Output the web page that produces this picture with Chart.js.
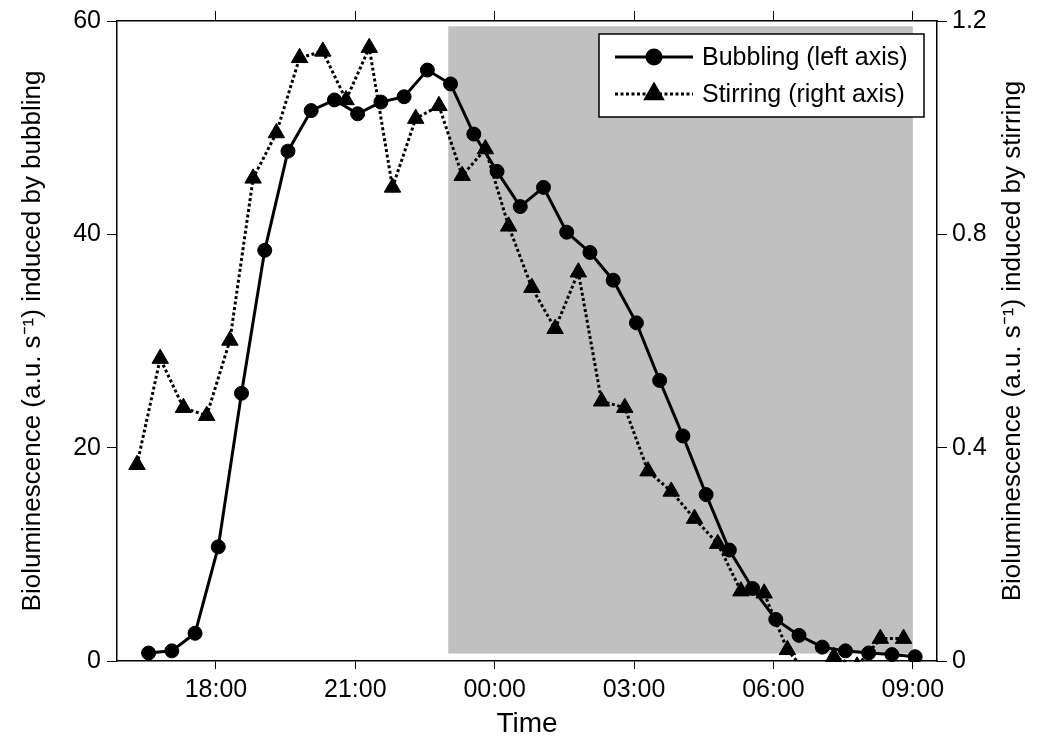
<!DOCTYPE html>
<html>
<head>
<meta charset="utf-8">
<script src="https://cdn.jsdelivr.net/npm/chart.js@4.4.1/dist/chart.umd.min.js"></script>
<style>
    body { margin: 0; background: #fff; }
    #wrap { width: 1037px; height: 742px; }
</style>
</head>
<body>
<div id="wrap"><canvas id="bioChart" width="1037" height="742"></canvas></div>
<script>
// --- Datos (horas desde la medianoche del primer día) ---
const bubblingHours = [16.55, 17.05, 17.55, 18.05, 18.55, 19.05, 19.55, 20.05, 20.55, 21.05, 21.55, 22.05,
    22.55, 23.05, 23.55, 24.05, 24.55, 25.05, 25.55, 26.05, 26.55, 27.05, 27.55, 28.05, 28.55, 29.05,
    29.55, 30.05, 30.55, 31.05, 31.55, 32.05, 32.55, 33.05];
const bubblingValues = [0.75, 0.95, 2.6, 10.7, 25.1, 38.5, 47.8, 51.6, 52.6, 51.3, 52.4, 52.9,
    55.4, 54.1, 49.4, 45.9, 42.6, 44.4, 40.2, 38.3, 35.7, 31.7, 26.3, 21.1, 15.6, 10.4,
    6.8, 3.9, 2.4, 1.3, 0.95, 0.75, 0.6, 0.4];

const stirringHours = [16.3, 16.8, 17.3, 17.8, 18.3, 18.8, 19.3, 19.8, 20.3, 20.8, 21.3, 21.8,
    22.3, 22.8, 23.3, 23.8, 24.3, 24.8, 25.3, 25.8, 26.3, 26.8, 27.3, 27.8, 28.3, 28.8,
    29.3, 29.8, 30.3, 30.8, 31.3, 31.8, 32.3, 32.8];
const stirringValues = [0.368, 0.567, 0.475, 0.46, 0.601, 0.905, 0.99, 1.131, 1.143, 1.052, 1.15, 0.888,
    1.017, 1.041, 0.91, 0.96, 0.815, 0.7, 0.623, 0.729, 0.487, 0.475, 0.356, 0.318, 0.267, 0.22,
    0.131, 0.127, 0.021, -0.03, 0.008, -0.01, 0.042, 0.042];

const xTickValues = [18, 21, 24, 27, 30, 33];
const xTickLabels = ['18:00', '21:00', '00:00', '03:00', '06:00', '09:00'];

// periodo nocturno sombreado
const nightStart = 23;
const nightEnd = 33;
const nightLow = 0.7;
const nightHigh = 59.5;

const FONT = "'Liberation Sans', Arial, sans-serif";
Chart.defaults.font.family = FONT;
Chart.defaults.font.size = 25;
Chart.defaults.color = '#000';

const setXTicks = scale => { scale.ticks = xTickValues.map(v => ({ value: v })); };

// --- Plugins ---
const nightShade = {
    id: 'nightShade',
    beforeDatasetsDraw(chart) {
        const { ctx, scales: { x, y } } = chart;
        const x0 = x.getPixelForValue(nightStart);
        const x1 = x.getPixelForValue(nightEnd);
        const y0 = y.getPixelForValue(nightHigh);
        const y1 = y.getPixelForValue(nightLow);
        ctx.save();
        ctx.fillStyle = '#c0c0c0';
        ctx.fillRect(x0, y0, x1 - x0, y1 - y0);
        ctx.restore();
    }
};

const boxLegend = {
    id: 'boxLegend',
    afterDraw(chart) {
        const { ctx } = chart;
        ctx.save();
        ctx.fillStyle = '#fff';
        ctx.strokeStyle = '#000';
        ctx.lineWidth = 1.5;
        ctx.fillRect(599, 34, 325, 83);
        ctx.strokeRect(599, 34, 325, 83);

        const rows = [57, 94];
        chart.data.datasets.forEach((ds, i) => {
            const yy = rows[i];
            ctx.beginPath();
            ctx.setLineDash(ds.borderDash || []);
            ctx.lineWidth = ds.borderWidth;
            ctx.strokeStyle = '#000';
            ctx.moveTo(615, yy);
            ctx.lineTo(693, yy);
            ctx.stroke();
            ctx.setLineDash([]);
            Chart.helpers.drawPoint(ctx, {
                pointStyle: ds.pointStyle,
                radius: ds.pointRadius,
                borderWidth: 1
            }, 654, yy);
            ctx.fillStyle = '#000';
            ctx.fill();
            ctx.font = '25px ' + FONT;
            ctx.textBaseline = 'middle';
            ctx.textAlign = 'left';
            ctx.fillText(ds.label, 702, yy + 1);
        });
        ctx.restore();
    }
};

const rightTitle = {
    id: 'rightTitle',
    afterDraw(chart) {
        const { ctx, chartArea } = chart;
        ctx.save();
        ctx.translate(1013, (chartArea.top + chartArea.bottom) / 2);
        ctx.rotate(-Math.PI / 2);
        ctx.font = '26px ' + FONT;
        ctx.fillStyle = '#000';
        ctx.textAlign = 'center';
        ctx.textBaseline = 'middle';
        ctx.fillText('Bioluminescence (a.u. s\u207B\u00B9) induced by stirring', 0, 0);
        ctx.restore();
    }
};

// --- Gráfico ---
const ctx = document.getElementById('bioChart').getContext('2d');
new Chart(ctx, {
    type: 'line',
    data: {
        datasets: [{
            label: 'Bubbling (left axis)',
            data: bubblingHours.map((h, i) => ({ x: h, y: bubblingValues[i] })),
            yAxisID: 'y',
            borderColor: '#000',
            backgroundColor: '#000',
            borderWidth: 3,
            pointStyle: 'circle',
            pointRadius: 7,
            pointBorderWidth: 1,
            pointBackgroundColor: '#000',
            tension: 0,
            clip: { left: 10, top: 10, right: 10, bottom: 1 }
        }, {
            label: 'Stirring (right axis)',
            data: stirringHours.map((h, i) => ({ x: h, y: stirringValues[i] })),
            yAxisID: 'y1',
            borderColor: '#000',
            backgroundColor: '#000',
            borderWidth: 3,
            borderDash: [3, 2.5],
            pointStyle: 'triangle',
            pointRadius: 9.5,
            pointBorderWidth: 1,
            pointBackgroundColor: '#000',
            tension: 0,
            clip: { left: 10, top: 10, right: 10, bottom: 1 }
        }]
    },
    options: {
        responsive: false,
        animation: false,
        layout: { padding: 0 },
        plugins: {
            legend: { display: false },
            tooltip: { enabled: false }
        },
        scales: {
            x: {
                type: 'linear',
                position: 'bottom',
                min: 15.87,
                max: 33.52,
                afterBuildTicks: setXTicks,
                afterFit: s => { s.height = 81; },
                grid: { drawOnChartArea: false, tickLength: 8, color: '#000' },
                border: { color: '#000', width: 1.5 },
                ticks: { padding: 6, maxRotation: 0, callback: (v, i) => xTickLabels[i] },
                title: { display: true, text: 'Time', font: { size: 28 }, padding: { top: 0, bottom: 1 } }
            },
            xTop: {
                type: 'linear',
                position: 'top',
                min: 15.87,
                max: 33.52,
                afterBuildTicks: setXTicks,
                afterFit: s => { s.height = 20; },
                grid: { drawOnChartArea: false, tickLength: 10, color: '#000' },
                border: { color: '#000', width: 1.5 },
                ticks: { display: false }
            },
            y: {
                position: 'left',
                min: 0,
                max: 60,
                afterFit: s => { s.width = 117; },
                grid: { drawOnChartArea: false, tickLength: 10, color: '#000' },
                border: { color: '#000', width: 1.5 },
                ticks: { stepSize: 20, padding: 6 },
                title: {
                    display: true,
                    text: 'Bioluminescence (a.u. s\u207B\u00B9) induced by bubbling',
                    font: { size: 26 },
                    padding: { top: 17, bottom: 0 }
                }
            },
            y1: {
                position: 'right',
                min: 0,
                max: 1.2,
                afterFit: s => { s.width = 100; },
                grid: { drawOnChartArea: false, tickLength: 10, color: '#000' },
                border: { color: '#000', width: 1.5 },
                ticks: { stepSize: 0.4, padding: 5 }
            }
        }
    },
    plugins: [nightShade, boxLegend, rightTitle]
});
</script>
</body>
</html>
